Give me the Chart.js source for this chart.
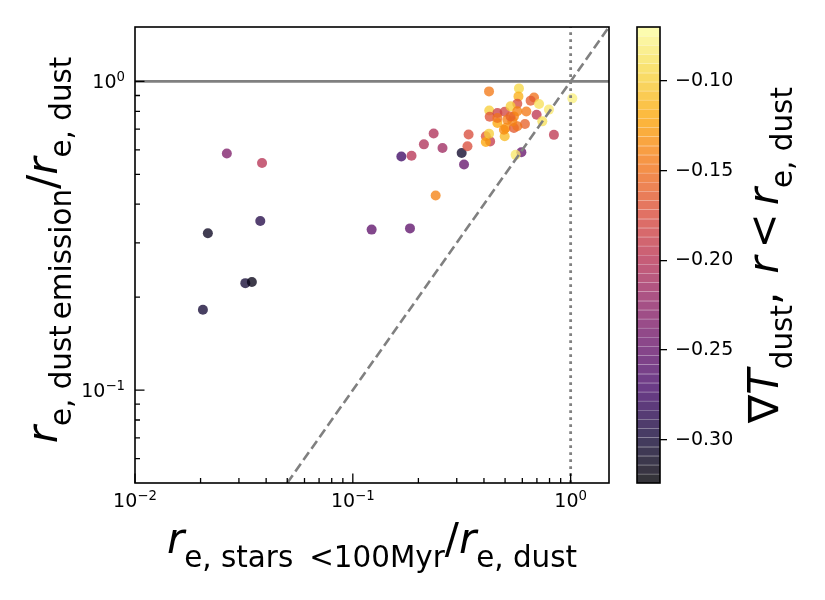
<!DOCTYPE html>
<html>
<head>
<meta charset="utf-8">
<script src="https://cdn.jsdelivr.net/npm/chart.js@4.4.1/dist/chart.umd.min.js"></script>
<style>
  html, body { margin: 0; padding: 0; background: #fff; }
  #wrap { position: relative; width: 825px; height: 600px; }
  #wrap canvas { position: absolute; left: 0; top: 0; }
</style>
</head>
<body>
<div id="wrap">
  <canvas id="scatter" width="825" height="600"></canvas>
  <canvas id="colorbar" width="825" height="600"></canvas>
</div>
<script>
// r_e of young stars / r_e dust
const sizeRatioStars = [
  0.0264, 0.0383, 0.0216, 0.0376, 0.0321, 0.0344, 0.0205,
  0.122, 0.183, 0.167, 0.186, 0.212, 0.235, 0.258, 0.240,
  0.316, 0.324, 0.340, 0.336, 0.422, 0.594, 0.559, 0.838, 1.018,
  0.579, 0.576, 0.679, 0.655, 0.716, 0.698, 0.795, 0.741, 0.617,
  0.569, 0.626, 0.423, 0.425, 0.461, 0.498, 0.530, 0.549, 0.461,
  0.503, 0.549, 0.569, 0.498, 0.408, 0.427, 0.408, 0.422, 0.512,
  0.540, 0.530, 0.494, 0.461, 0.569
];
// r_e dust emission / r_e dust
const sizeRatioEmission = [
  0.584, 0.544, 0.322, 0.353, 0.222, 0.224, 0.182,
  0.331, 0.334, 0.571, 0.574, 0.625, 0.678, 0.608, 0.427,
  0.586, 0.538, 0.673, 0.616, 0.928, 0.589, 0.578, 0.671, 0.881,
  0.949, 0.894, 0.887, 0.866, 0.845, 0.780, 0.810, 0.742, 0.728,
  0.846, 0.799, 0.805, 0.768, 0.790, 0.797, 0.830, 0.770, 0.733,
  0.706, 0.706, 0.715, 0.664, 0.664, 0.639, 0.636, 0.677, 0.751,
  0.742, 0.770, 0.697, 0.761, 0.800
];
// dust temperature gradient inside r_e
const tempGradient = [
  -0.235, -0.200, -0.310, -0.290, -0.300, -0.315, -0.300,
  -0.255, -0.255, -0.275, -0.200, -0.205, -0.205, -0.215, -0.140,
  -0.305, -0.250, -0.175, -0.175, -0.145, -0.250, -0.085, -0.195, -0.080,
  -0.095, -0.115, -0.150, -0.165, -0.090, -0.195, -0.085, -0.090, -0.160,
  -0.175, -0.145, -0.100, -0.170, -0.185, -0.180, -0.100, -0.140, -0.120,
  -0.130, -0.165, -0.150, -0.110, -0.170, -0.190, -0.120, -0.100, -0.140,
  -0.140, -0.160, -0.135, -0.150, -0.140
];

const xRange = [0.01, 1.5];
const yRange = [0.05, 1.5];
const cbarRange = [-0.324, -0.07];
const unity = 1;

const xMajorTicks = [0.01, 0.1, 1];
const xMajorLabels = [['10', '\u22122'], ['10', '\u22121'], ['10', '0']];
const xMinorTicks = [0.02, 0.03, 0.04, 0.05, 0.06, 0.07, 0.08, 0.09,
                     0.2, 0.3, 0.4, 0.5, 0.6, 0.7, 0.8, 0.9];
const yMajorTicks = [0.1, 1];
const yMajorLabels = [['10', '\u22121'], ['10', '0']];
const yMinorTicks = [0.06, 0.07, 0.08, 0.09, 0.2, 0.3, 0.4, 0.5, 0.6, 0.7, 0.8, 0.9];
const cbarTicks = [-0.30, -0.25, -0.20, -0.15, -0.10];

const FAMILY = '"DejaVu Sans", sans-serif';
const MAIN = 42, SUB = 29.4, SUB_DROP = 13.5;
const TICK = 19, SUP = 13.3, SUP_RISE = 7;

const INFERNO = [[0, 0, 4], [22, 11, 57], [66, 10, 104], [106, 23, 110], [147, 38, 103],
  [188, 55, 84], [221, 81, 58], [243, 120, 25], [252, 165, 10], [246, 215, 70], [252, 255, 164]];

function inferno(t, alpha) {
  t = Math.min(1, Math.max(0, t));
  const f = t * 10;
  const i = Math.min(9, Math.floor(f));
  const r = f - i;
  const c = INFERNO[i].map((v, k) => Math.round(v + (INFERNO[i + 1][k] - v) * r));
  return 'rgba(' + c[0] + ',' + c[1] + ',' + c[2] + ',' + alpha + ')';
}

function norm(v) {
  return (v - cbarRange[0]) / (cbarRange[1] - cbarRange[0]);
}

// tiny mathtext-ish renderer: list of segments drawn along a baseline
const M = (t, it) => ({ t: t, size: MAIN, it: it, dy: 0 });
const S = (t) => ({ t: t, size: SUB, it: false, dy: SUB_DROP });
const G = (g) => ({ gap: g });

function segFont(s) {
  return (s.it ? 'italic ' : '') + s.size + 'px ' + FAMILY;
}

function measureMath(ctx, segs) {
  let w = 0;
  segs.forEach((s) => {
    if (s.gap) { w += s.gap; return; }
    ctx.font = segFont(s);
    w += ctx.measureText(s.t).width;
  });
  return w;
}

function drawMath(ctx, segs, x, y, align) {
  const w = measureMath(ctx, segs);
  let cx = align === 'center' ? x - w / 2 : (align === 'right' ? x - w : x);
  ctx.textAlign = 'left';
  ctx.textBaseline = 'alphabetic';
  ctx.fillStyle = '#000';
  segs.forEach((s) => {
    if (s.gap) { cx += s.gap; return; }
    ctx.font = segFont(s);
    ctx.fillText(s.t, cx, y + s.dy);
    cx += ctx.measureText(s.t).width;
  });
}

function powerLabel(parts) {
  return [{ t: parts[0], size: TICK, it: false, dy: 0 }, { t: parts[1], size: SUP, it: false, dy: -SUP_RISE }];
}

const xTitle = [M('r', true), S('e, stars'), G(16), S('<100Myr'), M('/'), M('r', true), S('e, dust')];
const yTitle = [M('r', true), S('e, dust'), G(6), S('emission'), M('/'), M('r', true), S('e, dust')];
const cbarTitle = [M('\u2207'), M('T', true), S('dust'), M(','), G(18), M('r', true), G(8), M('<'), G(8), M('r', true), S('e, dust')];

const axesPlugin = {
  id: 'axesFrame',
  afterDraw(chart) {
    const { ctx, chartArea: a, scales: { x, y } } = chart;
    ctx.save();
    ctx.strokeStyle = '#000';
    ctx.lineWidth = 1.3;
    ctx.beginPath();
    xMajorTicks.forEach((v) => { const px = x.getPixelForValue(v); ctx.moveTo(px, a.bottom); ctx.lineTo(px, a.bottom - 9.5); });
    xMinorTicks.forEach((v) => { const px = x.getPixelForValue(v); ctx.moveTo(px, a.bottom); ctx.lineTo(px, a.bottom - 5); });
    yMajorTicks.forEach((v) => { const py = y.getPixelForValue(v); ctx.moveTo(a.left, py); ctx.lineTo(a.left + 9.5, py); });
    yMinorTicks.forEach((v) => { const py = y.getPixelForValue(v); ctx.moveTo(a.left, py); ctx.lineTo(a.left + 5, py); });
    ctx.stroke();

    ctx.lineWidth = 1.6;
    ctx.strokeRect(a.left, a.top, a.right - a.left, a.bottom - a.top);

    xMajorTicks.forEach((v, i) => {
      drawMath(ctx, powerLabel(xMajorLabels[i]), x.getPixelForValue(v), a.bottom + 23.5, 'center');
    });
    yMajorTicks.forEach((v, i) => {
      drawMath(ctx, powerLabel(yMajorLabels[i]), a.left - 10, y.getPixelForValue(v) + 7, 'right');
    });

    drawMath(ctx, xTitle, (a.left + a.right) / 2, 553, 'center');

    ctx.translate(57, (a.top + a.bottom) / 2 - 5);
    ctx.rotate(-Math.PI / 2);
    drawMath(ctx, yTitle, 0, 0, 'center');
    ctx.restore();
  }
};

const scatterChart = new Chart(document.getElementById('scatter'), {
  type: 'scatter',
  data: {
    datasets: [
      {
        data: sizeRatioStars.map((v, i) => ({ x: v, y: sizeRatioEmission[i] })),
        pointRadius: 5,
        pointBorderWidth: 0,
        pointBackgroundColor: tempGradient.map((v) => inferno(norm(v), 0.78)),
        order: 2
      },
      {
        type: 'line',
        data: [{ x: xRange[0], y: unity }, { x: xRange[1], y: unity }],
        borderColor: '#808080',
        borderWidth: 2.6,
        pointRadius: 0,
        order: 1
      },
      {
        type: 'line',
        data: [{ x: unity, y: yRange[0] }, { x: unity, y: yRange[1] }],
        borderColor: '#808080',
        borderWidth: 2.8,
        borderDash: [2.8, 4.2],
        pointRadius: 0,
        order: 1
      },
      {
        type: 'line',
        data: [{ x: yRange[0], y: yRange[0] }, { x: yRange[1], y: yRange[1] }],
        borderColor: '#808080',
        borderWidth: 2.6,
        borderDash: [9.5, 4.5],
        pointRadius: 0,
        order: 1
      }
    ]
  },
  options: {
    responsive: false,
    animation: false,
    devicePixelRatio: 1,
    events: [],
    layout: { padding: { left: 0, right: 216, top: 27, bottom: 0 } },
    plugins: { legend: { display: false }, tooltip: { enabled: false } },
    scales: {
      x: {
        type: 'logarithmic',
        min: xRange[0],
        max: xRange[1],
        grid: { display: false },
        border: { display: false },
        ticks: { display: false },
        afterFit: (scale) => { scale.height = 117; }
      },
      y: {
        type: 'logarithmic',
        min: yRange[0],
        max: yRange[1],
        grid: { display: false },
        border: { display: false },
        ticks: { display: false },
        afterFit: (scale) => { scale.width = 135; }
      }
    }
  },
  plugins: [axesPlugin]
});

const colorbarPlugin = {
  id: 'colorbarFill',
  beforeDatasetsDraw(chart) {
    const { ctx, chartArea: a, scales: { y } } = chart;
    const n = 50;
    const step = (cbarRange[1] - cbarRange[0]) / n;
    ctx.save();
    for (let i = 0; i < n; i++) {
      const p0 = y.getPixelForValue(cbarRange[0] + i * step);
      const p1 = y.getPixelForValue(cbarRange[0] + (i + 1) * step);
      ctx.fillStyle = inferno((i + 0.5) / n, 0.8);
      ctx.fillRect(a.left, p1, a.right - a.left, p0 - p1);
    }
    ctx.strokeStyle = 'rgba(255,255,255,0.22)';
    ctx.lineWidth = 1;
    ctx.beginPath();
    for (let i = 1; i < n; i++) {
      const p = Math.round(y.getPixelForValue(cbarRange[0] + i * step)) + 0.5;
      ctx.moveTo(a.left, p);
      ctx.lineTo(a.right, p);
    }
    ctx.stroke();
    ctx.strokeStyle = '#000';
    ctx.lineWidth = 1.6;
    ctx.strokeRect(a.left, a.top, a.right - a.left, a.bottom - a.top);
    ctx.restore();
  },
  afterDraw(chart) {
    const { ctx, chartArea: a } = chart;
    ctx.save();
    ctx.translate(778, (a.top + a.bottom) / 2);
    ctx.rotate(-Math.PI / 2);
    drawMath(ctx, cbarTitle, 0, 0, 'center');
    ctx.restore();
  }
};

const colorbarChart = new Chart(document.getElementById('colorbar'), {
  type: 'scatter',
  data: { datasets: [{ data: [] }] },
  options: {
    responsive: false,
    animation: false,
    devicePixelRatio: 1,
    events: [],
    layout: { padding: { left: 637, right: 0, top: 27, bottom: 117 } },
    plugins: { legend: { display: false }, tooltip: { enabled: false } },
    scales: {
      x: { display: false },
      y: {
        type: 'linear',
        position: 'right',
        min: cbarRange[0],
        max: cbarRange[1],
        afterBuildTicks: (scale) => { scale.ticks = cbarTicks.map((v) => ({ value: v })); },
        afterFit: (scale) => { scale.width = 165; },
        grid: { drawOnChartArea: false, drawTicks: true, tickLength: 7, color: '#000', lineWidth: 1.3 },
        border: { display: false },
        ticks: {
          padding: 8,
          color: '#000',
          font: { family: FAMILY, size: TICK },
          callback: (v) => '\u2212' + Math.abs(v).toFixed(2)
        }
      }
    }
  },
  plugins: [colorbarPlugin]
});
</script>
</body>
</html>
